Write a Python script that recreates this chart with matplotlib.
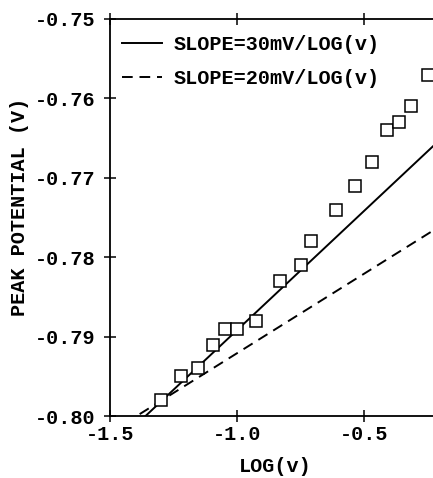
import matplotlib

matplotlib.use("Agg")
import matplotlib.pyplot as plt  # noqa: E402
import numpy as np  # noqa: E402

# measured peak potentials vs log scan rate
log_v = [-1.30, -1.22, -1.153, -1.094, -1.047, -1.00, -0.925, -0.83, -0.748,
         -0.709, -0.61, -0.535, -0.468, -0.41, -0.362, -0.315, -0.248]
peak_v = [-0.798, -0.795, -0.794, -0.791, -0.789, -0.789, -0.788, -0.783, -0.781,
          -0.778, -0.774, -0.771, -0.768, -0.764, -0.763, -0.761, -0.757]

# reference lines: (slope V/decade, intercept V, label)
slope_30 = (0.030, -0.7592, "SLOPE=30mV/LOG(v)")
slope_20 = (0.020, -0.7721, "SLOPE=20mV/LOG(v)")

x_ticks = [-1.5, -1.0, -0.5]
y_ticks = [-0.80, -0.79, -0.78, -0.77, -0.76, -0.75]

FONT = "Liberation Mono"
plt.rcParams["font.family"] = [FONT, "DejaVu Sans"]
plt.rcParams["font.weight"] = "bold"
FS = 14.5

W, H = 433, 478
fig = plt.figure(figsize=(W / 100, H / 100), dpi=100)
ax = fig.add_axes([110 / W, (H - 416) / H, (440 - 110) / W, (416 - 19) / H])

xs = np.array([-1.5, -0.2])
for (b, a, lab), ls in [(slope_30, "-"), (slope_20, (0, (5.5, 3.5)))]:
    ax.plot(xs, a + b * xs, color="black", lw=1.4, ls=ls, label=lab)

ax.plot(log_v, peak_v, ls="none", marker="s", ms=8.5, mfc="white",
        mec="black", mew=1.1)

ax.set_xlim(-1.5, -0.2)
ax.set_ylim(-0.80, -0.75)
ax.set_xticks(x_ticks)
ax.set_xticklabels([f"{t:.1f}" for t in x_ticks])
ax.set_yticks(y_ticks)
ax.set_yticklabels([f"{t:.2f}" for t in y_ticks])
ax.tick_params(direction="inout", length=9, width=1.1, labelsize=FS, top=True)
ax.tick_params(axis="x", pad=2)
ax.tick_params(axis="y", pad=6)
for s in ax.spines.values():
    s.set_linewidth(1.3)
ax.spines["right"].set_visible(False)

leg = ax.legend(loc="upper left", bbox_to_anchor=(122 / W, 1 - 35 / H),
                bbox_transform=fig.transFigure, frameon=False, fontsize=FS,
                handlelength=2.0, handletextpad=0.55, labelspacing=0.75,
                borderpad=0, borderaxespad=0)

fig.text(275 / W, 1 - 466 / H, "LOG(v)", ha="center", va="center",
         fontsize=FS, fontweight="bold")
fig.text(20 / W, 1 - 207 / H, "PEAK POTENTIAL (V)", ha="center", va="center",
         rotation=90, fontsize=FS, fontweight="bold")

fig.savefig("out.png", dpi=100)
